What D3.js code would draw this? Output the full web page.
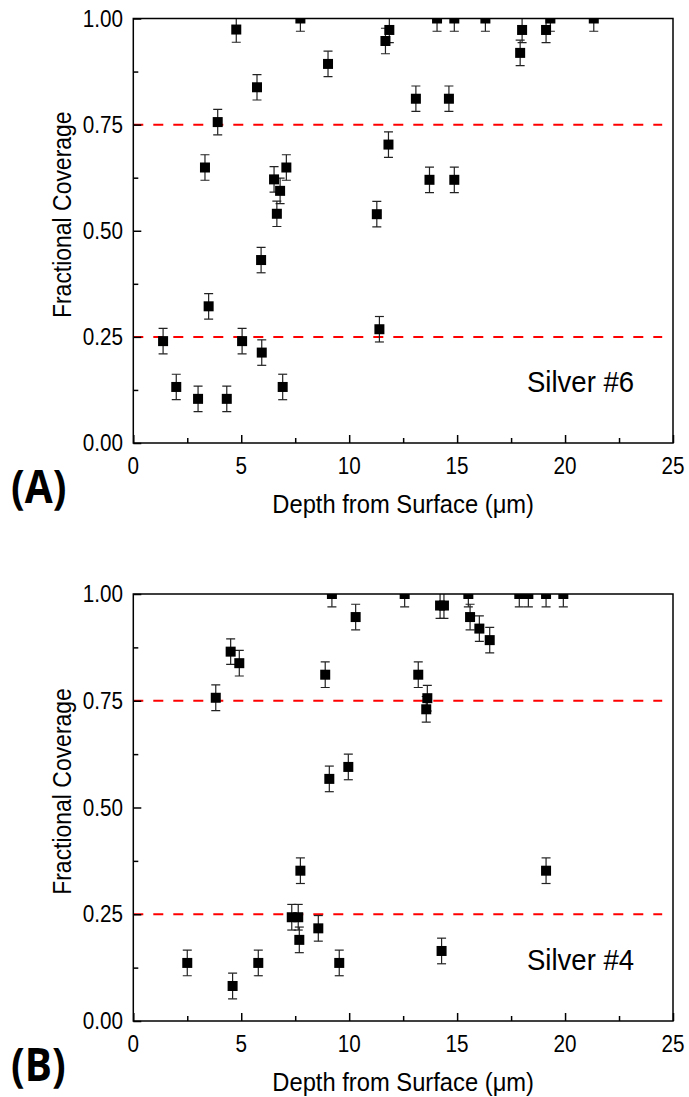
<!DOCTYPE html>
<html><head><meta charset="utf-8">
<script src="https://cdn.jsdelivr.net/npm/d3@7"></script>
<style>body{margin:0;background:#fff}svg{display:block}</style>
</head><body><svg id="c" width="689" height="1097"></svg>
<script>
// ---- data ----
const depthA = [1.38,1.99,3.00,3.32,3.49,3.91,4.33,4.77,5.04,5.73,5.95,5.92,6.52,6.65,6.80,6.92,7.09,7.74,9.02,11.28,11.40,11.68,11.82,11.86,13.09,13.72,14.07,14.62,14.87,14.87,16.31,17.92,18.01,19.12,19.32,21.33];
const coverA = [0.240,0.132,0.104,0.649,0.322,0.756,0.104,0.974,0.240,0.838,0.213,0.431,0.621,0.540,0.594,0.132,0.649,1.000,0.893,0.539,0.268,0.947,0.703,0.973,0.811,0.620,1.000,0.811,0.620,1.000,1.000,0.919,0.973,0.973,1.000,1.000];
const depthB = [2.50,3.82,4.51,4.60,4.91,5.79,7.34,7.64,7.69,7.74,8.57,8.89,9.08,9.20,9.54,9.96,10.30,12.57,13.20,13.62,13.57,14.21,14.39,14.28,15.52,15.60,16.03,16.51,17.88,18.30,19.12,19.12,19.92];
const coverB = [0.136,0.757,0.865,0.082,0.838,0.136,0.243,0.243,0.190,0.352,0.217,0.811,0.567,1.000,0.136,0.595,0.946,1.000,0.811,0.756,0.730,0.973,0.973,0.164,1.000,0.946,0.919,0.892,1.000,1.000,1.000,0.352,1.000];
const errorBar = 0.03;
const xTicks = [0,5,10,15,20,25];
const xMinor = [2.5,7.5,12.5,17.5,22.5];
const yTicks = [0,0.25,0.5,0.75,1];
const yMinor = [0.125,0.375,0.625,0.875];
const thresholds = [0.25,0.75];
const panels = [
  {id:"A", label:"(A)", name:"Silver #6", depth:depthA, cover:coverA, top:18.5, bottom:443},
  {id:"B", label:"(B)", name:"Silver #4", depth:depthB, cover:coverB, top:594, bottom:1021}
];

const svg = d3.select("#c");
const left = 133.3, right = 673;
const FONT = "'Liberation Sans', Arial, sans-serif";

function txt(g, x, y, s, size, sx, anchor) {
  return g.append("text")
    .attr("transform", `translate(${x},${y}) scale(${sx},1)`)
    .attr("font-family", FONT).attr("font-size", size)
    .attr("text-anchor", anchor || "start").attr("fill", "#000").text(s);
}

panels.forEach(p => {
  const x = d3.scaleLinear().domain([0,25]).range([left,right]);
  const y = d3.scaleLinear().domain([0,1]).range([p.bottom,p.top]);
  const g = svg.append("g");
  const clipId = "clip" + p.id;
  svg.append("clipPath").attr("id", clipId).append("rect")
    .attr("x", left).attr("y", p.top).attr("width", right-left).attr("height", p.bottom-p.top);

  // threshold lines
  g.selectAll(".thr").data(thresholds).enter().append("line")
    .attr("x1", x(0)).attr("x2", x(24.5))
    .attr("y1", d => y(d)).attr("y2", d => y(d))
    .attr("stroke", "#ff0000").attr("stroke-width", 2).attr("stroke-dasharray", "10,10");

  const pts = p.depth.map((d,i) => ({x:d, y:p.cover[i]}));
  const dg = g.append("g").attr("clip-path", `url(#${clipId})`);
  // error bars
  const eb = dg.selectAll(".eb").data(pts).enter().append("g");
  eb.append("line").attr("x1", d => x(d.x)).attr("x2", d => x(d.x))
    .attr("y1", d => y(d.y - errorBar)).attr("y2", d => y(d.y + errorBar))
    .attr("stroke", "#222").attr("stroke-width", 1.2);
  [-1,1].forEach(s => {
    eb.append("line").attr("x1", d => x(d.x)-4.5).attr("x2", d => x(d.x)+4.5)
      .attr("y1", d => y(d.y + s*errorBar)).attr("y2", d => y(d.y + s*errorBar))
      .attr("stroke", "#222").attr("stroke-width", 1.2);
  });
  // squares
  dg.selectAll(".sq").data(pts).enter().append("rect")
    .attr("x", d => x(d.x)-5).attr("y", d => y(d.y)-5)
    .attr("width", 10).attr("height", 10).attr("fill", "#000");

  // frame
  g.append("rect").attr("x", left).attr("y", p.top).attr("width", right-left).attr("height", p.bottom-p.top)
    .attr("fill", "none").attr("stroke", "#000").attr("stroke-width", 1.5);

  // ticks (inward)
  const styl = a => { a.select(".domain").remove(); a.selectAll("line").attr("stroke-width",1.5); };
  g.append("g").attr("transform", `translate(0,${p.bottom})`)
    .call(d3.axisBottom(x).tickValues(xTicks).tickSize(-8).tickFormat("")).call(styl);
  g.append("g").attr("transform", `translate(0,${p.bottom})`)
    .call(d3.axisBottom(x).tickValues(xMinor).tickSize(-5).tickFormat("")).call(styl);
  g.append("g").attr("transform", `translate(${left},0)`)
    .call(d3.axisLeft(y).tickValues(yTicks).tickSize(-8).tickFormat("")).call(styl);
  g.append("g").attr("transform", `translate(${left},0)`)
    .call(d3.axisLeft(y).tickValues(yMinor).tickSize(-5).tickFormat("")).call(styl);

  // tick labels
  xTicks.forEach(t => txt(g, x(t), p.bottom + 31, String(t), 23.5, 0.88, "middle"));
  yTicks.forEach(t => txt(g, 123, y(t) + 8, d3.format(".2f")(t), 23.5, 0.88, "end"));

  // titles
  txt(g, (left+right)/2, p.bottom + 70, "Depth from Surface (\u03bcm)", 25, 0.95, "middle");
  const yc = (p.top + p.bottom)/2 - 16;
  g.append("text").attr("transform", `translate(71,${yc}) rotate(-90) scale(0.9,1)`)
    .attr("font-family", FONT).attr("font-size", 25.5).attr("text-anchor","middle").text("Fractional Coverage");
  txt(g, 527, p.bottom - 51, p.name, 29, 0.95, "start");
  g.append("text").attr("transform", `translate(11,${p.bottom + 60}) scale(0.88,1)`)
    .attr("font-family", "'Open Sans', sans-serif").attr("font-weight", 700).attr("font-size", 46)
    .text(p.label);
});
</script></body></html>
